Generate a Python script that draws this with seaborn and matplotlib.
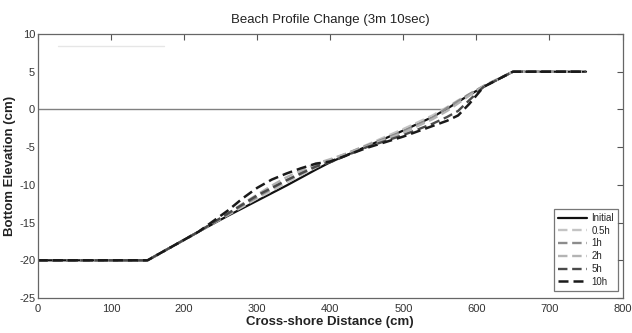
import matplotlib
matplotlib.use("Agg")
import matplotlib.pyplot as plt
import seaborn as sns
import pandas as pd

# ---- data (cm) ----
initial_x = [0, 150, 220, 260, 300, 340, 380, 400, 450, 500, 540, 560, 575, 590, 610, 650, 750]
initial_y = [-20, -20, -16.2, -14.1, -12.1, -10.1, -8.0, -7.0, -4.9, -2.8, -1.0, 0.1, 1.0, 1.9, 3.0, 5, 5]

grid_x = [0, 150, 220, 260, 280, 300, 320, 340, 360, 380, 400, 450, 500, 540, 560, 575, 590, 610, 650, 750]
h05_y = [-20, -20, -16.2, -14.0, -12.9, -11.8, -10.8, -9.7, -8.7, -7.7, -6.8, -4.7, -2.6, -0.8, 0.3, 1.2, 2.0, 3.1, 5, 5]
h1_y = [-20, -20, -16.2, -13.9, -12.7, -11.6, -10.5, -9.4, -8.4, -7.4, -6.7, -4.8, -2.9, -1.1, 0.2, 1.1, 2.0, 3.1, 5, 5]
h2_y = [-20, -20, -16.2, -13.8, -12.5, -11.3, -10.1, -9.0, -8.1, -7.2, -6.6, -4.9, -3.1, -1.3, -0.2, 0.8, 1.8, 3.1, 5, 5]
h5_y = [-20, -20, -16.2, -13.8, -12.6, -11.4, -10.4, -9.4, -8.5, -7.6, -7.0, -5.0, -3.4, -1.9, -1.0, -0.2, 1.2, 3.0, 5, 5]
h10_y = [-20, -20, -16.2, -13.4, -11.8, -10.4, -9.3, -8.5, -7.8, -7.2, -6.9, -5.1, -3.6, -2.2, -1.5, -0.8, 0.7, 3.0, 5, 5]

water_x = [0, 560]
water_y = [0, 0]
faint_x = [27, 173]
faint_y = [8.4, 8.4]

labels = ["Initial", "0.5h", "1h", "2h", "5h", "10h"]
x_ticks = [0, 100, 200, 300, 400, 500, 600, 700, 800]
y_ticks = [-25, -20, -15, -10, -5, 0, 5, 10]

sns.set_theme(style="white")
plt.rcParams['font.family'] = ['Liberation Sans Narrow', 'Liberation Sans', 'DejaVu Sans']
plt.rcParams['axes.unicode_minus'] = False

fig = plt.figure(figsize=(6.32, 3.33), dpi=100)
ax = fig.add_axes([0.060, 0.105, 0.925, 0.793])

sns.lineplot(x=water_x, y=water_y, ax=ax, color="#808080", lw=1.0, legend=False)
sns.lineplot(x=faint_x, y=faint_y, ax=ax, color="#e6e6e6", lw=1.0, legend=False)

styles = [
    (initial_x, initial_y, "#111111", None, 1.6),
    (grid_x, h05_y, "#c4c4c4", (4, 2), 1.7),
    (grid_x, h1_y, "#8c8c8c", (4, 2), 1.7),
    (grid_x, h2_y, "#b4b4b4", (4, 2), 1.7),
    (grid_x, h5_y, "#4a4a4a", (4, 2), 1.7),
    (grid_x, h10_y, "#1a1a1a", (4, 2), 1.8),
]
for (xs, ys, c, d, lw), lab in zip(styles, labels):
    df = pd.DataFrame({"x": xs, "y": ys})
    sns.lineplot(data=df, x="x", y="y", ax=ax, color=c, lw=lw, label=lab, sort=False)
    l = ax.get_lines()[-1]
    if d is not None:
        l.set_dashes(d)

ax.set_xlim(0, 800)
ax.set_ylim(-25, 10)
ax.set_xticks(x_ticks)
ax.set_yticks(y_ticks)
ax.tick_params(direction="in", length=4, width=0.8, colors="#555555", labelsize=8,
               top=True, right=True, labelcolor="#333333", pad=2)
ax.tick_params(axis="x", pad=4)
for s in ax.spines.values():
    s.set_color("#666666")
    s.set_linewidth(0.9)

ax.set_title("Beach Profile Change (3m 10sec)", fontsize=9.5, color="#222222", pad=8)
ax.set_xlabel("Cross-shore Distance (cm)", fontsize=9.5, fontweight="bold", labelpad=2, color="#222222")
ax.set_ylabel("Bottom Elevation (cm)", fontsize=9.5, fontweight="bold", labelpad=2, color="#222222")

leg = ax.legend(loc="lower right", fontsize=7, frameon=True, fancybox=False,
                handlelength=3.0, borderpad=0.4, labelspacing=0.28, handletextpad=0.4,
                bbox_to_anchor=(1.0, 0.01))
leg.get_frame().set_edgecolor("#555555")
leg.get_frame().set_linewidth(0.9)

fig.savefig("out.png", dpi=100)
